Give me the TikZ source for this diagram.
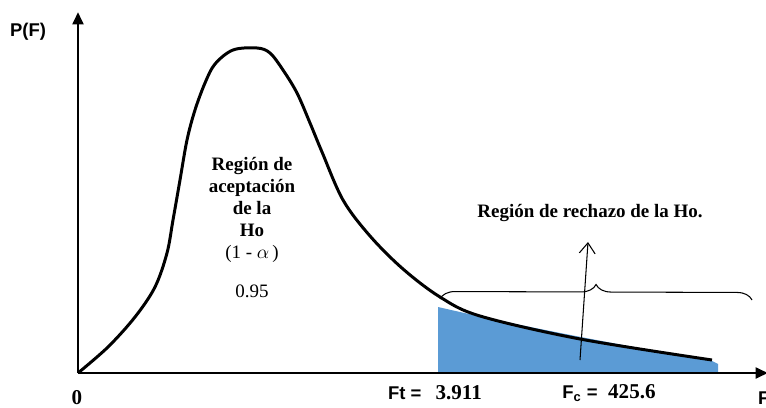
\documentclass[tikz,border=0pt]{standalone}
\usepackage{fontspec}
\setmainfont{Liberation Serif}
\setsansfont{Liberation Sans}
\usepackage{tikz}
\usetikzlibrary{arrows.meta,
                decorations.pathreplacing,
                positioning}
\definecolor{rechazo}{RGB}{91,155,213}

\begin{document}
\begin{tikzpicture}[x=0.02cm,y=-0.02cm,
  axis/.style={line width=1.7pt,-{Triangle[length=7pt,width=6pt]}},
  txt/.style={font=\fontsize{10.8}{11.3}\selectfont\bfseries,inner sep=1pt},
  lbl/.style={font=\fontsize{10.5}{12}\selectfont\sffamily\bfseries,inner sep=1pt},
  val/.style={font=\fontsize{12}{13}\selectfont\bfseries,inner sep=1pt}]
\useasboundingbox (0,0) rectangle (766,408);
% ejes
\coordinate (O) at (78,373);
\coordinate (ytop) at (78,12);
\coordinate (xend) at (768,373);
% region de rechazo
\fill[rechazo] (438,373) -- (438,307) .. controls (520,326) and (620,345) .. (712,361)
  -- (718,364) -- (718,373) -- cycle;
\draw[axis] (O) -- (ytop);
\draw[axis] (O) -- (xend);
% curva F
\draw[line width=1.7pt,line join=round] plot[smooth,tension=0.55] coordinates
  {(78,373) (108,347) (135,317) (155,287) (167,253) (173,220) (180,180) (187,140)
   (195,110) (205,83) (215,64) (233,50) (257,48) (270,53) (283,70) (297,93)
   (310,123) (322,152) (343,200) (370,236) (403,269) (440,297) (480,316)
   (580,339) (712,360)};
% llave y flecha
\coordinate (bl) at (440,299);
\coordinate (br) at (752,300);
\draw[line width=0.6pt,decorate,decoration={brace,amplitude=0.3cm}] (bl) -- (br);
\coordinate (fb) at (580,360);
\coordinate (ft) at (588,242);
\draw[line width=0.6pt,-{Straight Barb[length=6pt,width=9pt]}] (fb) -- (ft);
% textos
\node[lbl] (pf) at (28,32) {P(F)};
\node[val] (cero) at (77,398) {0};
\node[lbl,anchor=west] (feje) at (756,398) {F};
\node[txt,align=center] (acep) at (252,210)
  {Región de\\[1.2pt]aceptación\\[1.2pt]de la\\[1.2pt]Ho\\[1.2pt]\mdseries(1 - $\alpha$\,)};
\node[txt] (conf) at (252,291) {\mdseries 0.95};
\node[txt] (rech) at (590,213) {Región de rechazo de la Ho.};
\node[val] (ftab) at (435,393) {\textsf{\fontsize{10.5}{12}\selectfont Ft =}\hspace{8pt}3.911};
\node[val] (fcal) at (609,393) {\textsf{\fontsize{10.5}{12}\selectfont F\textsubscript{c} =}\hspace{6pt}425.6};
\end{tikzpicture}
\end{document}
